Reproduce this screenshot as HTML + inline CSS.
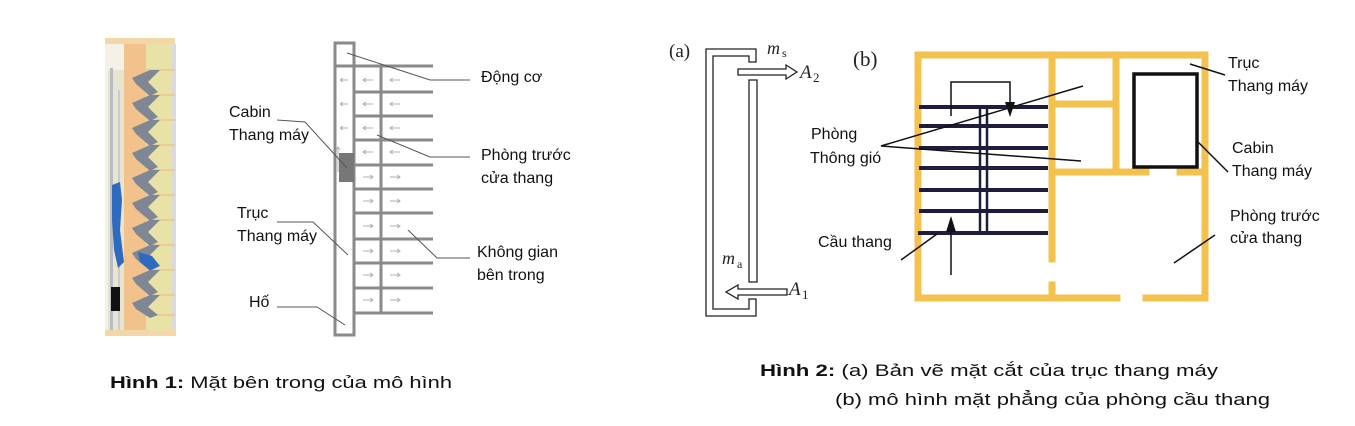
<!DOCTYPE html>
<html><head><meta charset="utf-8"><style>
html,body{margin:0;padding:0;background:#fff;}
svg{display:block;font-family:"Liberation Sans",sans-serif;}
</style></head><body>
<svg width="1355" height="426" viewBox="0 0 1355 426" xmlns="http://www.w3.org/2000/svg">
<!-- 3D building -->
<rect x="105" y="40" width="70" height="296" fill="#f4f1e6"/>
<rect x="108" y="70" width="16" height="262" fill="#e9e4cf"/>
<rect x="110" y="68" width="3" height="266" fill="#b8bcc4"/>
<rect x="118" y="90" width="2" height="244" fill="#c8ccd2"/>
<rect x="124" y="42" width="22" height="294" fill="#f2c28c"/>
<rect x="146" y="42" width="26" height="294" fill="#e8e2a6"/>
<rect x="172" y="44" width="4" height="292" fill="#d8dce2"/>
<rect x="105" y="38" width="70" height="6" fill="#f2d8a6"/>
<rect x="105" y="330" width="70" height="6" fill="#f2d8a6"/>
<g stroke="#e8c890" stroke-width="1.5">
<line x1="146" y1="70" x2="175" y2="70"/><line x1="146" y1="95" x2="175" y2="95"/><line x1="146" y1="120" x2="175" y2="120"/><line x1="146" y1="145" x2="175" y2="145"/><line x1="146" y1="170" x2="175" y2="170"/><line x1="146" y1="195" x2="175" y2="195"/><line x1="146" y1="220" x2="175" y2="220"/><line x1="146" y1="245" x2="175" y2="245"/><line x1="146" y1="270" x2="175" y2="270"/><line x1="146" y1="295" x2="175" y2="295"/><line x1="146" y1="315" x2="175" y2="315"/>
</g>
<g fill="#7f8794">
<path d="M132 78 L150 70 L160 70 L148 82 L158 92 L150 96 L136 84Z"/>
<path d="M132 103 L150 95 L160 95 L148 107 L158 117 L150 121 L136 109Z"/>
<path d="M132 128 L150 120 L160 120 L148 132 L158 142 L150 146 L136 134Z"/>
<path d="M132 153 L150 145 L160 145 L148 157 L158 167 L150 171 L136 159Z"/>
<path d="M132 178 L150 170 L160 170 L148 182 L158 192 L150 196 L136 184Z"/>
<path d="M132 203 L150 195 L160 195 L148 207 L158 217 L150 221 L136 209Z"/>
<path d="M132 228 L150 220 L160 220 L148 232 L158 242 L150 246 L136 234Z"/>
<path d="M132 253 L150 245 L160 245 L148 257 L158 267 L150 271 L136 259Z"/>
<path d="M132 278 L150 270 L160 270 L148 282 L158 292 L150 296 L136 284Z"/>
<path d="M132 303 L150 295 L160 295 L148 307 L158 315 L150 318 L136 309Z"/>
</g>
<path d="M112 185 L120 182 L122 200 L120 230 L124 262 L118 268 L114 250 L112 220Z" fill="#2e6bbf"/>
<path d="M138 252 L152 256 L160 266 L150 270 L140 262Z" fill="#2e6bbf"/>
<rect x="111" y="287" width="9" height="24" fill="#111"/>

<!-- Fig1 schematic -->
<g stroke="#8a8a8a" stroke-width="3" fill="none">
<rect x="335" y="43" width="19" height="292"/>
<line x1="335" y1="66" x2="354" y2="66"/>
<line x1="354" y1="66" x2="433" y2="66"/><line x1="354" y1="92" x2="433" y2="92"/><line x1="354" y1="116" x2="433" y2="116"/><line x1="354" y1="140" x2="433" y2="140"/><line x1="354" y1="165" x2="433" y2="165"/><line x1="354" y1="189" x2="433" y2="189"/><line x1="354" y1="213" x2="433" y2="213"/><line x1="354" y1="239" x2="433" y2="239"/><line x1="354" y1="263" x2="433" y2="263"/><line x1="354" y1="288" x2="433" y2="288"/><line x1="354" y1="313" x2="433" y2="313"/>
<line x1="381" y1="66" x2="381" y2="313"/>
</g>
<rect x="339" y="153" width="15" height="29" fill="#777"/>
<g stroke="#b0b0b0" stroke-width="1" fill="none">
<path d="M348 80h-8m3-2l-3 2 3 2M373 80h-10m3-2l-3 2 3 2M400 80h-10m3-2l-3 2 3 2"/>
<path d="M348 104h-8m3-2l-3 2 3 2M373 104h-10m3-2l-3 2 3 2M400 104h-10m3-2l-3 2 3 2"/>
<path d="M348 128h-8m3-2l-3 2 3 2M373 128h-10m3-2l-3 2 3 2M400 128h-10m3-2l-3 2 3 2"/>
<path d="M373 152h-10m3-2l-3 2 3 2M400 152h-10m3-2l-3 2 3 2"/>
<path d="M363 177h10m-3-2l3 2-3 2M390 177h10m-3-2l3 2-3 2"/>
<path d="M363 201h10m-3-2l3 2-3 2M390 201h10m-3-2l3 2-3 2"/>
<path d="M363 226h10m-3-2l3 2-3 2M390 226h10m-3-2l3 2-3 2"/>
<path d="M363 251h10m-3-2l3 2-3 2M390 251h10m-3-2l3 2-3 2"/>
<path d="M363 275h10m-3-2l3 2-3 2M390 275h10m-3-2l3 2-3 2"/>
<path d="M363 300h10m-3-2l3 2-3 2M390 300h10m-3-2l3 2-3 2"/>
<path d="M338 172v-25m-2 3l2-3 2 3"/>
</g>
<g stroke="#555" stroke-width="1" fill="none">
<polyline points="347,53 430,80 470,80"/>
<polyline points="377,135 430,157 470,157"/>
<polyline points="408,230 437,258 470,258"/>
<polyline points="277,120 305,122 347,168"/>
<polyline points="277,222 313,222 348,255"/>
<polyline points="277,307 317,307 345,325"/>
</g>
<g font-size="16" fill="#111">
<text x="481" y="82">Động cơ</text>
<text x="481" y="160">Phòng trước</text>
<text x="481" y="183">cửa thang</text>
<text x="477" y="257">Không gian</text>
<text x="477" y="280">bên trong</text>
<text x="229" y="117">Cabin</text>
<text x="229" y="140">Thang máy</text>
<text x="237" y="218">Trục</text>
<text x="237" y="241">Thang máy</text>
<text x="249" y="307">Hố</text>
</g>

<!-- Fig2 (a) -->
<g stroke="#222" stroke-width="1.3" fill="none">
<path d="M756 49H706V316H756V299H749V309H713V56H749V62H756Z"/>
<rect x="749" y="80" width="8" height="202"/>
<path d="M738 69H786V65L797 72L786 79V75H738Z"/>
<path d="M787 289H738V285L726 292L738 299V295H787Z"/>
</g>
<g font-family="Liberation Serif,serif" fill="#222">
<text x="669" y="57" font-size="19">(a)</text>
<text x="767" y="54" font-size="18" font-style="italic">m</text><text x="782" y="57" font-size="12">s</text>
<text x="800" y="78" font-size="19" font-style="italic">A</text><text x="813" y="82" font-size="13">2</text>
<text x="722" y="264" font-size="18" font-style="italic">m</text><text x="737" y="268" font-size="12">a</text>
<text x="789" y="295" font-size="19" font-style="italic">A</text><text x="802" y="299" font-size="13">1</text>
<text x="853" y="66" font-size="21">(b)</text>
</g>

<!-- Fig2 (b) -->
<g stroke="#f2c14e" stroke-width="7" fill="none" stroke-linecap="square">
<path d="M1117 298H918V55H1205V298H1146"/>
<line x1="1052" y1="55" x2="1052" y2="259"/>
<line x1="1052" y1="285" x2="1052" y2="298"/>
<line x1="1116" y1="55" x2="1116" y2="170"/>
<line x1="1052" y1="104" x2="1116" y2="104"/>
<line x1="1052" y1="172" x2="1146" y2="172"/>
<line x1="1180" y1="172" x2="1205" y2="172"/>
</g>
<rect x="1134" y="74" width="63" height="93" fill="none" stroke="#111" stroke-width="3.5"/>
<g stroke="#1e1e3c" stroke-width="4">
<line x1="919" y1="107" x2="1048" y2="107"/><line x1="919" y1="126" x2="1048" y2="126"/><line x1="919" y1="148" x2="1048" y2="148"/><line x1="919" y1="168" x2="1048" y2="168"/><line x1="919" y1="190" x2="1048" y2="190"/><line x1="919" y1="211" x2="1048" y2="211"/><line x1="918" y1="233" x2="1048" y2="233"/>
</g>
<g stroke="#1e1e3c" stroke-width="2.5"><line x1="980" y1="107" x2="980" y2="233"/><line x1="987" y1="107" x2="987" y2="233"/></g>
<g stroke="#111" stroke-width="1.5" fill="none">
<polyline points="951,116 951,82 1010,82 1010,104"/>
<line x1="951" y1="275" x2="951" y2="228"/>
<polyline points="1083,86 881,146 1081,161"/>
<line x1="901" y1="260" x2="937" y2="234"/>
<line x1="1190" y1="64" x2="1225" y2="75"/>
<line x1="1197" y1="141" x2="1228" y2="172"/>
<line x1="1174" y1="263" x2="1215" y2="235"/>
</g>
<path d="M1005 102H1015L1010 117Z" fill="#111"/>
<path d="M946 232H956L951 216Z" fill="#111"/>
<g font-size="16" fill="#111">
<text x="811" y="139">Phòng</text>
<text x="810" y="163">Thông gió</text>
<text x="818" y="247">Cầu thang</text>
<text x="1228" y="68">Trục</text>
<text x="1228" y="91">Thang máy</text>
<text x="1232" y="153">Cabin</text>
<text x="1232" y="176">Thang máy</text>
<text x="1230" y="221">Phòng trước</text>
<text x="1230" y="243">cửa thang</text>
</g>

<!-- captions -->
<g font-size="17" fill="#111">
<text x="110" y="388" textLength="342" lengthAdjust="spacingAndGlyphs"><tspan font-weight="bold">Hình 1:</tspan> Mặt bên trong của mô hình</text>
<text x="760" y="376" textLength="458" lengthAdjust="spacingAndGlyphs"><tspan font-weight="bold">Hình 2:</tspan> (a) Bản vẽ mặt cắt của trục thang máy</text>
<text x="835" y="405" textLength="435" lengthAdjust="spacingAndGlyphs">(b) mô hình mặt phẳng của phòng cầu thang</text>
</g>
</svg>
</body></html>
